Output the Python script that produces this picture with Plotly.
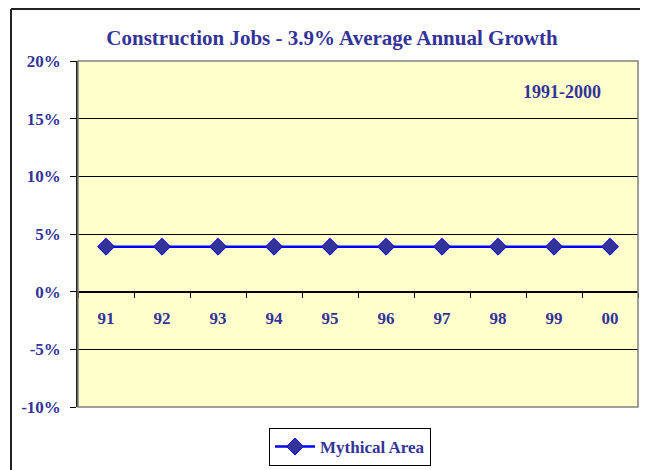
import plotly.graph_objects as go

years = ["91", "92", "93", "94", "95", "96", "97", "98", "99", "00"]
growth = [3.9, 3.9, 3.9, 3.9, 3.9, 3.9, 3.9, 3.9, 3.9, 3.9]
y_ticks = [-10, -5, 0, 5, 10, 15, 20]
y_ticktext = ["-10%", "-5%", "0%", "5%", "10%", "15%", "20%"]

NAVY = "#333399"
FONT = "Liberation Serif, Times New Roman, serif"
BFONT = dict(size=17, color=NAVY, family=FONT, weight="bold")

# page body has an 8px margin, so the figure is drawn 8px smaller
W, H = 640, 462

fig = go.Figure()
fig.add_trace(go.Scatter(
    x=years, y=growth, mode="lines+markers", name="Mythical Area",
    line=dict(color="#0000FF", width=2.5),
    marker=dict(symbol="diamond", size=13, color=NAVY, line=dict(color="#0000FF", width=1)),
))

bx0 = (11 - 78) / 560
bx1 = (660 - 78) / 560
by0 = (407 - 480) / 346
by1 = (407 - 9) / 346

fig.update_layout(
    width=W, height=H,
    margin=dict(l=70, r=10, t=53, b=63, autoexpand=False),
    paper_bgcolor="white",
    plot_bgcolor="#FFFFCC",
    font=dict(family=FONT, color=NAVY, size=17),
    title=dict(text="<b>Construction Jobs - 3.9% Average Annual Growth</b>",
               x=324 / W, xanchor="center", y=1 - 30 / H, yanchor="middle",
               font=dict(size=21, color=NAVY, family=FONT)),
    showlegend=True,
    legend=dict(x=342 / W, y=1 - 439 / H, xref="container", yref="container",
                xanchor="center", yanchor="middle",
                orientation="h", bordercolor="black", borderwidth=1,
                bgcolor="white", font=BFONT, itemwidth=40),
    xaxis=dict(type="category", range=[-0.5, 9.5], anchor="free", position=1 / 3,
               showline=True, linecolor="black", linewidth=1,
               ticks="outside", tickson="boundaries", ticklen=5, tickcolor="black",
               showgrid=False, tickfont=BFONT, automargin=False,
               ticklabelstandoff=11, fixedrange=True),
    yaxis=dict(range=[-10, 20], tickvals=y_ticks, ticktext=y_ticktext,
               showline=True, linecolor="#222222", linewidth=1.5,
               ticks="outside", ticklen=6, tickcolor="black", automargin=False,
               showgrid=True, gridcolor="black", gridwidth=1, zeroline=False,
               tickfont=BFONT, ticklabelstandoff=6),
    annotations=[dict(text="<b>1991-2000</b>", x=0.864, y=0.91, xref="paper", yref="paper",
                      xanchor="center", yanchor="middle",
                      showarrow=False, font=dict(size=18, color=NAVY, family=FONT))],
    shapes=[
        dict(type="rect", xref="paper", yref="paper", x0=0, x1=1, y0=0, y1=1,
             line=dict(color="#808080", width=1.5), layer="above"),
        dict(type="line", xref="paper", yref="paper", x0=bx0, x1=bx1, y0=by1, y1=by1,
             line=dict(color="#222222", width=2), layer="below"),
        dict(type="line", xref="paper", yref="paper", x0=bx0, x1=bx0, y0=by0, y1=by1,
             line=dict(color="#222222", width=2), layer="below"),
    ],
)
fig.update_traces(cliponaxis=False)

fig.write_html("out.html")
